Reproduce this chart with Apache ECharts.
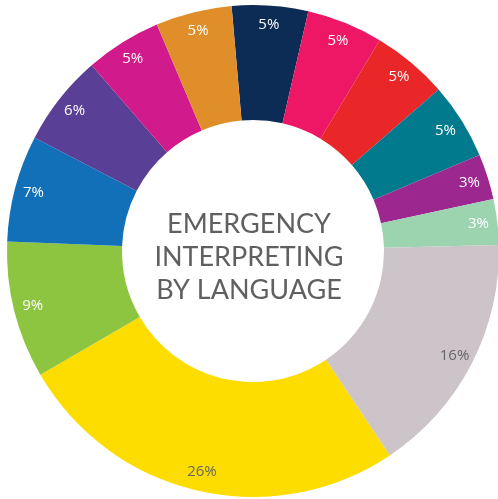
<!DOCTYPE html>
<html>
<head>
<meta charset="utf-8">
<script src="https://cdn.jsdelivr.net/npm/echarts@6/dist/echarts.min.js"></script>
<style>
  html, body { margin: 0; padding: 0; background: #ffffff; }
  #chart { width: 498px; height: 499px; }
</style>
</head>
<body>
<div id="chart"></div>
<script>
// Share of emergency interpreting per language, clockwise from the top
const languages = ['A', 'B', 'C', 'D', 'E', 'F', 'G', 'H', 'I', 'J', 'K', 'L', 'M'];
const shares = [5, 5, 5, 5, 3, 3, 16, 26, 9, 7, 6, 5, 5];
const sliceColors = [
  '#0c2b55', '#ee1766', '#e92628', '#017a8e', '#9c278f', '#9cd4b0',
  '#cdc4ca', '#fddd00', '#8dc540', '#1170b7', '#5a3f97', '#d11a8b', '#e08e2a'
];
const labelColors = [
  '#ffffff', '#ffffff', '#ffffff', '#ffffff', '#ffffff', '#ffffff',
  '#666666', '#666666', '#ffffff', '#ffffff', '#ffffff', '#ffffff', '#ffffff'
];
const centerTitle = ['EMERGENCY', 'INTERPRETING', 'BY LANGUAGE'];

const FONT = '"Open Sans", Lato, sans-serif';
const CENTER = [253, 251];
const START = 95;

const slices = languages.map((name, i) => ({
  name,
  value: shares[i],
  itemStyle: { color: sliceColors[i] }
}));

// Transparent ring in the outer part of the donut that carries the percentage labels
const labelSlices = languages.map((name, i) => ({
  name,
  value: shares[i],
  itemStyle: { color: 'rgba(0,0,0,0)' },
  label: { color: labelColors[i] }
}));

const chart = echarts.init(document.getElementById('chart'), null, { renderer: 'canvas' });
chart.setOption({
  animation: false,
  backgroundColor: '#ffffff',
  series: [
    {
      type: 'pie',
      center: CENTER,
      radius: [131, 246],
      startAngle: START,
      clockwise: true,
      silent: true,
      label: { show: false },
      labelLine: { show: false },
      itemStyle: { borderWidth: 0 },
      data: slices
    },
    {
      type: 'pie',
      center: CENTER,
      radius: [202, 246],
      startAngle: START,
      clockwise: true,
      silent: true,
      label: {
        show: true,
        position: 'inside',
        formatter: p => p.value + '%',
        fontFamily: FONT,
        fontSize: 15,
        fontWeight: 400
      },
      labelLine: { show: false },
      data: labelSlices
    }
  ],
  graphic: [
    {
      type: 'text',
      left: 'center',
      top: 208,
      style: {
        text: centerTitle.join('\n'),
        fill: '#606060',
        font: '400 27px Lato, sans-serif',
        lineHeight: 33,
        textAlign: 'center'
      }
    }
  ]
});
</script>
</body>
</html>
